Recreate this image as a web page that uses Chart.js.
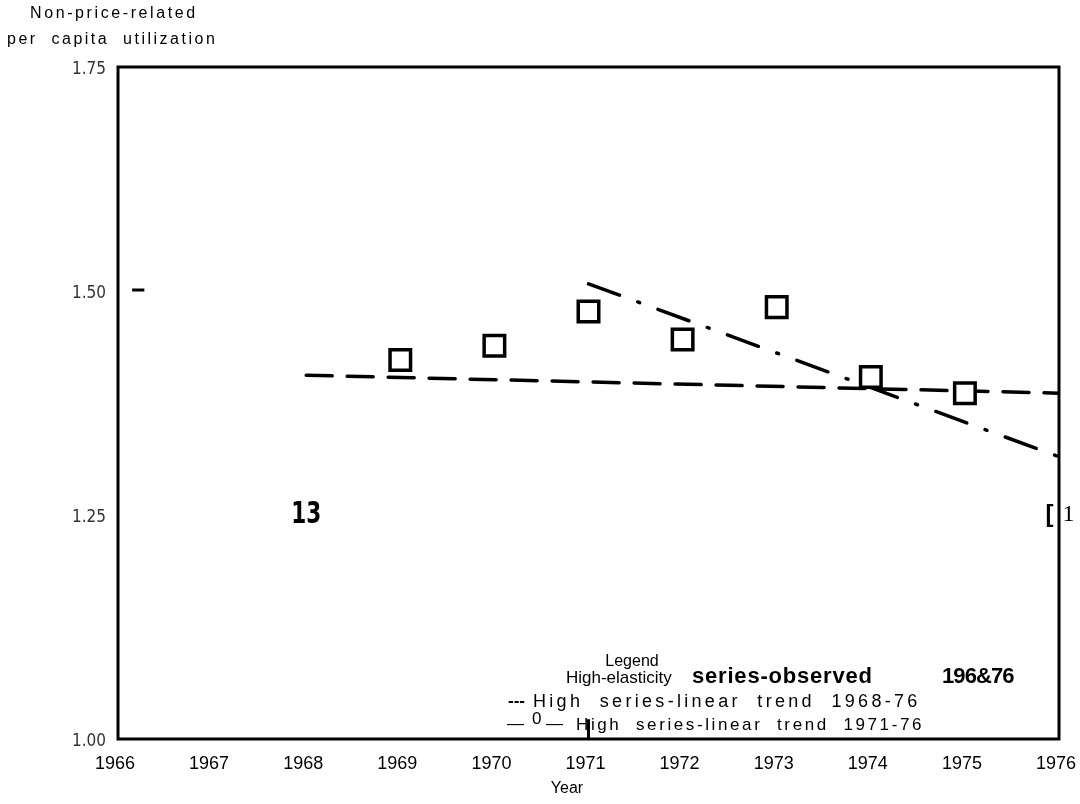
<!DOCTYPE html>
<html>
<head>
<meta charset="utf-8">
<script src="https://cdn.jsdelivr.net/npm/chart.js@4.4.0/dist/chart.umd.min.js"></script>
<style>
  html, body { margin: 0; background: #fff; }
</style>
</head>
<body>
<canvas id="grafico" width="1080" height="804"></canvas>
<script>
// Dados
const anosObservados = [1969, 1970, 1971, 1972, 1973, 1974, 1975];
const serieObservada = [1.423, 1.439, 1.477, 1.446, 1.482, 1.404, 1.386];
const anosTendencia6876 = [1968, 1976];
const tendencia6876 = [1.406, 1.386];
const anosTendencia7176 = [1971, 1976];
const tendencia7176 = [1.508, 1.315];
const ticksAnos = [1966, 1967, 1968, 1969, 1970, 1971, 1972, 1973, 1974, 1975, 1976];
const ticksValor = [1.00, 1.25, 1.50, 1.75];

const tituloY = ["Non-price-related", "per  capita  utilization"];
const tituloX = "Year";
const legendaTitulo = "Legend";
const legendaObservada = ["High-elasticity", "series-observed", "196&76"];
const legenda6876 = ["---", "High  series-linear  trend  1968-76"];
const legenda7176 = ["\u2014", "0", "\u2014", "High  series-linear  trend  1971-76"];

const pares = (xs, ys) => xs.map((x, i) => ({ x: x, y: ys[i] }));
const SANS = '"Liberation Sans", Arial, sans-serif';

// Textos, moldura e marcas soltas
const extras = {
  id: 'extras',
  beforeDatasetsDraw(chart) {
    const { ctx, chartArea: a } = chart;
    ctx.save();
    ctx.strokeStyle = '#000';
    ctx.lineWidth = 3;
    ctx.strokeRect(a.left, a.top, a.right - a.left, a.bottom - a.top);
    ctx.restore();
  },
  afterDraw(chart) {
    const { ctx, scales: { x, y } } = chart;
    ctx.save();
    ctx.fillStyle = '#000';
    ctx.textBaseline = 'middle';

    // Título do eixo Y
    ctx.font = '16px ' + SANS;
    ctx.textAlign = 'left';
    ctx.letterSpacing = '2.6px';
    ctx.fillText(tituloY[0], 30, 14);
    ctx.letterSpacing = '2.5px';
    ctx.fillText(tituloY[1], 7, 40);

    // Título do eixo X
    ctx.letterSpacing = '0px';
    ctx.textAlign = 'center';
    ctx.font = '16px ' + SANS;
    ctx.fillText(tituloX, 567, 789);

    // Legenda
    ctx.fillText(legendaTitulo, 632, 662);
    ctx.textAlign = 'left';
    ctx.font = '17px ' + SANS;
    ctx.fillText(legendaObservada[0], 566, 678);
    ctx.font = 'bold 22px ' + SANS;
    ctx.letterSpacing = '0.8px';
    ctx.fillText(legendaObservada[1], 692, 677);
    ctx.letterSpacing = '-0.9px';
    ctx.fillText(legendaObservada[2], 942, 677);

    ctx.letterSpacing = '0px';
    ctx.font = 'bold 17px ' + SANS;
    ctx.fillText(legenda6876[0], 508, 701);
    ctx.font = '18px ' + SANS;
    ctx.letterSpacing = '3.3px';
    ctx.fillText(legenda6876[1], 533, 702);

    ctx.letterSpacing = '0px';
    ctx.font = '17px ' + SANS;
    ctx.fillText(legenda7176[0], 507, 724);
    ctx.fillText(legenda7176[1], 532, 719);
    ctx.fillText(legenda7176[2], 546, 724);
    ctx.letterSpacing = '2.6px';
    ctx.fillText(legenda7176[3], 576, 725);
    ctx.letterSpacing = '0px';

    // Marcas soltas do original
    ctx.textAlign = 'center';
    ctx.save();
    ctx.translate(x.getPixelForValue(1968), y.getPixelForValue(1.25));
    ctx.scale(0.8, 1);
    ctx.font = 'bold 30px "DejaVu Sans Condensed", "Liberation Sans", sans-serif';
    ctx.fillText('13', 0, 0);
    ctx.restore();
    ctx.font = 'bold 24px ' + SANS;
    ctx.fillText('[', x.getPixelForValue(1975.9), y.getPixelForValue(1.25));
    ctx.font = '24px "Liberation Serif", serif';
    ctx.fillText('1', x.getPixelForValue(1976.1), y.getPixelForValue(1.25));

    ctx.strokeStyle = '#000';
    ctx.lineWidth = 3;
    ctx.beginPath();
    ctx.moveTo(x.getPixelForValue(1966.15), y.getPixelForValue(1.501));
    ctx.lineTo(x.getPixelForValue(1966.28), y.getPixelForValue(1.501));
    ctx.moveTo(x.getPixelForValue(1971), y.getPixelForValue(1.0));
    ctx.lineTo(x.getPixelForValue(1971), y.getPixelForValue(1.022));
    ctx.stroke();
    ctx.restore();
  }
};

new Chart(document.getElementById('grafico'), {
  type: 'scatter',
  data: {
    datasets: [
      {
        label: 'High-elasticity series-observed',
        data: pares(anosObservados, serieObservada),
        pointStyle: 'rect',
        pointRadius: 14.5,
        pointHoverRadius: 14.5,
        pointBorderWidth: 3.5,
        borderColor: '#000',
        backgroundColor: '#fff',
        showLine: false,
        order: 0
      },
      {
        label: 'High series-linear trend 1968-76',
        data: pares(anosTendencia6876, tendencia6876),
        showLine: true,
        borderColor: '#000',
        borderWidth: 3.5,
        borderCapStyle: 'round',
        borderDash: [26, 15],
        pointRadius: 0,
        order: 1
      },
      {
        label: 'High series-linear trend 1971-76',
        data: pares(anosTendencia7176, tendencia7176),
        showLine: true,
        borderColor: '#000',
        borderWidth: 3.5,
        borderCapStyle: 'round',
        borderDash: [33, 19.5, 2, 19.5],
        pointRadius: 0,
        order: 2
      }
    ]
  },
  options: {
    responsive: false,
    animation: false,
    layout: { padding: { left: 0, top: 67, right: 21, bottom: 0 } },
    plugins: { legend: { display: false }, tooltip: { enabled: false } },
    scales: {
      x: {
        type: 'linear',
        min: 1966,
        max: 1976,
        grid: { display: false, drawTicks: false },
        border: { display: false },
        afterBuildTicks: s => { s.ticks = ticksAnos.map(v => ({ value: v })); },
        afterFit: s => { s.height = 65; s.paddingRight = 21; s.paddingLeft = 0; },
        ticks: {
          padding: 14,
          labelOffset: -3,
          color: '#000',
          font: { family: SANS, size: 18 },
          callback: v => String(v),
          maxRotation: 0,
          autoSkip: false
        }
      },
      y: {
        min: 1.0,
        max: 1.75,
        grid: { display: false, drawTicks: false },
        border: { display: false },
        afterBuildTicks: s => { s.ticks = ticksValor.map(v => ({ value: v })); },
        afterFit: s => { s.width = 118; },
        ticks: {
          padding: 12,
          labelOffset: 3,
          color: '#333',
          font: { family: '"Liberation Sans Narrow", "DejaVu Sans Condensed", "Liberation Sans", sans-serif', size: 17 },
          callback: v => Number(v).toFixed(2)
        }
      }
    }
  },
  plugins: [extras]
});
</script>
</body>
</html>
